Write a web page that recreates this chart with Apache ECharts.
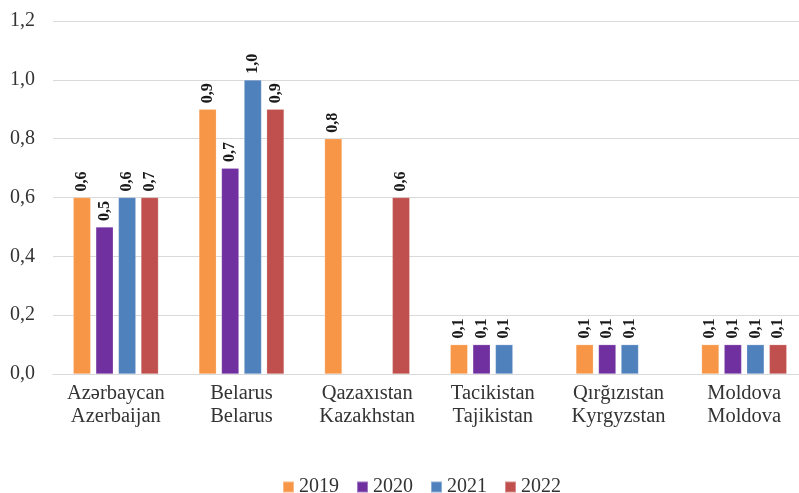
<!DOCTYPE html>
<html>
<head>
<meta charset="utf-8">
<script src="https://cdn.jsdelivr.net/npm/echarts@6/dist/echarts.min.js"></script>
<style>
html,body{margin:0;padding:0;background:#fff;overflow:hidden;}
#chart{width:807px;height:493px;}
</style>
</head>
<body>
<div id="chart"></div>
<script>
const categories = [
  "Azərbaycan\nAzerbaijan",
  "Belarus\nBelarus",
  "Qazaxıstan\nKazakhstan",
  "Tacikistan\nTajikistan",
  "Qırğızıstan\nKyrgyzstan",
  "Moldova\nMoldova"
];
const seriesNames = ["2019", "2020", "2021", "2022"];
const values2019 = [0.6, 0.9, 0.8, 0.1, 0.1, 0.1];
const values2020 = [0.5, 0.7, null, 0.1, 0.1, 0.1];
const values2021 = [0.6, 1.0, null, 0.1, 0.1, 0.1];
const values2022 = [0.6, 0.9, 0.6, null, null, 0.1];
// Data labels as printed on the chart (Azerbaijan 2022 is labelled 0,7)
const labels2019 = ["0,6", "0,9", "0,8", "0,1", "0,1", "0,1"];
const labels2020 = ["0,5", "0,7", "", "0,1", "0,1", "0,1"];
const labels2021 = ["0,6", "1,0", "", "0,1", "0,1", "0,1"];
const labels2022 = ["0,7", "0,9", "0,6", "", "", "0,1"];
const yTicks = [0, 0.2, 0.4, 0.6, 0.8, 1.0, 1.2];

const colors = ["#F79646", "#7030A0", "#4F81BD", "#C0504D"];
const allValues = [values2019, values2020, values2021, values2022];
const allLabels = [labels2019, labels2020, labels2021, labels2022];
const FONT = "'Liberation Serif', 'Times New Roman', serif";

const chart = echarts.init(document.getElementById('chart'), null, {renderer: 'canvas'});
chart.setOption({
  animation: false,
  backgroundColor: '#ffffff',
  color: colors,
  grid: {left: 53, top: 21, width: 754, height: 353, containLabel: false},
  legend: {
    data: seriesNames,
    left: 282,
    top: 477,
    padding: 0,
    icon: 'rect',
    itemWidth: 11,
    itemHeight: 11,
    itemGap: 17,
    textStyle: {fontFamily: FONT, fontSize: 20, color: '#333333', lineHeight: 20}
  },
  xAxis: {
    type: 'category',
    data: categories,
    axisLine: {lineStyle: {color: '#d9d9d9', width: 1}},
    axisTick: {show: false},
    axisLabel: {
      interval: 0, margin: 8,
      fontFamily: FONT, fontSize: 20.5, lineHeight: 23, color: '#333333'
    }
  },
  yAxis: {
    type: 'value',
    min: yTicks[0],
    max: yTicks[yTicks.length - 1],
    interval: 0.2,
    axisLine: {show: false},
    axisTick: {show: false},
    splitLine: {lineStyle: {color: '#d9d9d9', width: 1}},
    axisLabel: {
      margin: 18,
      fontFamily: FONT, fontSize: 20, color: '#333333',
      formatter: v => v.toFixed(1).replace('.', ',')
    }
  },
  series: seriesNames.map((name, i) => ({
    name: name,
    type: 'bar',
    barWidth: 17.5,
    barGap: '29%',
    data: allValues[i].map(v => v === null ? '-' : v),
    itemStyle: {color: colors[i], borderColor: 'rgba(255,255,255,0.35)', borderWidth: 0.6},
    label: {
      show: true,
      position: 'top',
      rotate: 90,
      align: 'left',
      verticalAlign: 'middle',
      distance: 6,
      fontFamily: FONT,
      fontSize: 16,
      fontWeight: 'bold',
      color: '#1a1a1a',
      formatter: p => allLabels[i][p.dataIndex]
    }
  }))
});
</script>
</body>
</html>
